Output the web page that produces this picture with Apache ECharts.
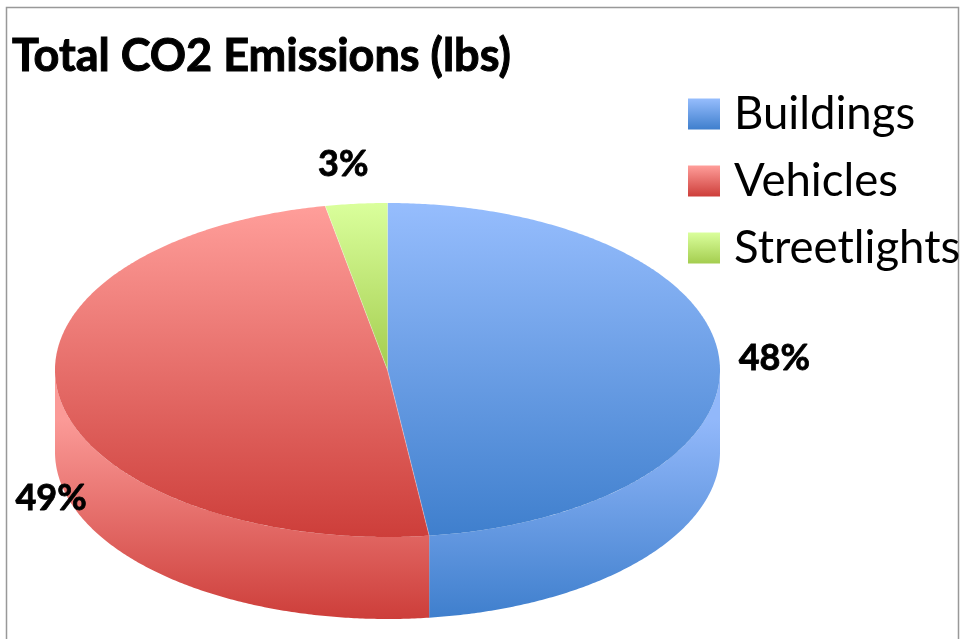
<!DOCTYPE html>
<html>
<head>
<meta charset="utf-8">
<style>html,body{margin:0;padding:0;background:#fff;overflow:hidden}#c{width:964px;height:639px}</style>
<script src="https://cdn.jsdelivr.net/npm/echarts@6/dist/echarts.min.js"></script>
</head>
<body>
<div id="c"></div>
<script>
const titleText = 'Total CO2 Emissions (lbs)';
const categories = ['Buildings', 'Vehicles', 'Streetlights'];
const shares = [48, 49, 3];

const palette = [
  { face: ['#96BDFD', '#3F7FCD'], side: ['#92B8FA', '#3F7FCD'] },
  { face: ['#FF9E9A', '#CD3E3A'], side: ['#FB9A97', '#CD3E3A'] },
  { face: ['#DAFF9C', '#A4CD4F'], side: ['#DAFF9C', '#A4CD4F'] }
];
const geom = { cx: 387.5, cy: 370, rx: 332.5, ry: 167, depth: 82 };
const labelOffsets = [[55, -1], [-8, 102], [-13, -39]];

const total = shares.reduce((a, b) => a + b, 0);
const starts = [];
shares.reduce((acc, v, i) => { starts[i] = acc; return acc + v; }, 0);
const toDeg = v => v / total * 360;
const pt = (deg, dy) => {
  const t = deg * Math.PI / 180;
  return [geom.cx + geom.rx * Math.sin(t), geom.cy - geom.ry * Math.cos(t) + (dy || 0)];
};
const arc = (a0, a1, dy) => {
  const out = [];
  const n = Math.max(2, Math.ceil((a1 - a0) * 2));
  for (let i = 0; i <= n; i++) out.push(pt(a0 + (a1 - a0) * i / n, dy));
  return out;
};
const grad = (c, hold) => new echarts.graphic.LinearGradient(0, 0, 0, 1, [
  { offset: 0, color: c[0] }, { offset: hold || 0, color: c[0] }, { offset: 1, color: c[1] }
]);

function renderSlice(i) {
  const a0 = toDeg(starts[i]);
  const a1 = toDeg(starts[i] + shares[i]);
  const children = [];
  const s0 = Math.max(a0, 90), s1 = Math.min(a1, 270);
  if (s1 > s0) {
    const pts = arc(s0, s1, 0).concat(arc(s0, s1, geom.depth).reverse());
    children.push({ type: 'polygon', shape: { points: pts }, style: { fill: grad(palette[i].side, 0.2) } });
  }
  children.push({
    type: 'polygon',
    shape: { points: [[geom.cx, geom.cy]].concat(arc(a0, a1, 0)) },
    style: { fill: grad(palette[i].face) }
  });
  children.push({
    type: 'polyline',
    shape: { points: [[geom.cx, geom.cy], pt(a0, 0)] },
    style: { stroke: 'rgba(255,255,255,0.3)', lineWidth: 1, fill: null }
  });
  const mid = pt((a0 + a1) / 2, 0);
  children.push({
    type: 'text', z2: 100,
    style: {
      x: mid[0] + labelOffsets[i][0], y: mid[1] + labelOffsets[i][1],
      text: shares[i] + '%', align: 'center', verticalAlign: 'middle',
      font: 'bold 36px Lato', fill: '#000', stroke: '#000', lineWidth: 0.8
    }
  });
  return { type: 'group', children };
}

const chart = echarts.init(document.getElementById('c'), null, { renderer: 'canvas' });
chart.setOption({
  animation: false,
  backgroundColor: '#fff',
  title: {
    text: titleText, left: 7, top: 29,
    textStyle: { fontFamily: 'Lato', fontWeight: 'bold', fontSize: 45, color: '#000', textBorderColor: '#000', textBorderWidth: 1 }
  },
  legend: {
    orient: 'vertical', left: 683, top: 84, itemWidth: 32, itemHeight: 31, itemGap: 17,
    selectedMode: false, icon: 'rect', data: categories,
    textStyle: { fontFamily: 'Lato', fontSize: 45.5, color: '#000', padding: [0, 0, 0, 9], lineHeight: 50 }
  },
  graphic: [{
    type: 'rect', shape: { x: 6.5, y: 7.5, width: 952, height: 700 },
    style: { fill: 'none', stroke: '#999', lineWidth: 1.5 }, silent: true, z: -1
  }],
  series: categories.map((name, i) => ({
    type: 'custom', name, coordinateSystem: 'none',
    itemStyle: { color: grad(palette[i].face) },
    data: [[shares[i]]],
    renderItem: () => renderSlice(i),
    silent: true, z: 2 + i
  }))
});
</script>
</body>
</html>
